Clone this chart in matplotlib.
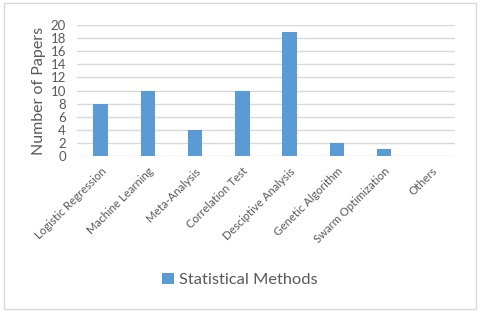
import matplotlib
matplotlib.use("Agg")
import matplotlib.pyplot as plt
from matplotlib.patches import Rectangle

categories = ["Logistic Regression", "Machine Learning", "Meta-Analysis", "Correlation Test",
              "Desciptive Analysis", "Genetic Algorithm", "Swarm Optimization", "Others"]
values = [8, 10, 4, 10, 19, 2, 1, 0]
yticks = list(range(0, 21, 2))
series_name = "Statistical Methods"

plt.rcParams['font.family'] = ['Lato', 'DejaVu Sans']
txt = "#595959"
bar_color = "#5B9BD5"

fig = plt.figure(figsize=(4.8, 3.15), dpi=100)
ax = fig.add_axes([77/480, 1-156/315, (455-77)/480, (156-25)/315])
x = list(range(len(categories)))
ax.bar(x, values, width=0.31, color=bar_color, zorder=3, label=series_name)
ax.set_xlim(-0.5, len(categories)-0.5)
ax.set_ylim(0, 20)
ax.set_yticks(yticks)
ax.set_yticklabels([str(t) for t in yticks], fontsize=9.5, color=txt)
ax.set_xticks(x)
ax.set_xticklabels(categories, rotation=45, ha="right", rotation_mode="anchor",
                   fontsize=8.2, color=txt)
ax.tick_params(axis="y", length=0, pad=8)
ax.tick_params(axis="x", length=0, pad=7)
ax.grid(axis="y", color="#d9d9d9", linewidth=1, zorder=0)
for s in ax.spines.values():
    s.set_visible(False)
ax.set_ylabel("Number of Papers", fontsize=11.5, color=txt, labelpad=3)

leg = fig.legend(loc="center", bbox_to_anchor=(0.5, 1-280/315), frameon=False,
                 fontsize=11.8, handlelength=0.7, handleheight=0.7, handletextpad=0.3)
for t in leg.get_texts():
    t.set_color(txt)

fig.patches.append(Rectangle((4/480, 1-309/315), 472/480, 306/315, transform=fig.transFigure,
                             fill=False, edgecolor="#d9d9d9", linewidth=1))
fig.savefig("out.png", dpi=100)
